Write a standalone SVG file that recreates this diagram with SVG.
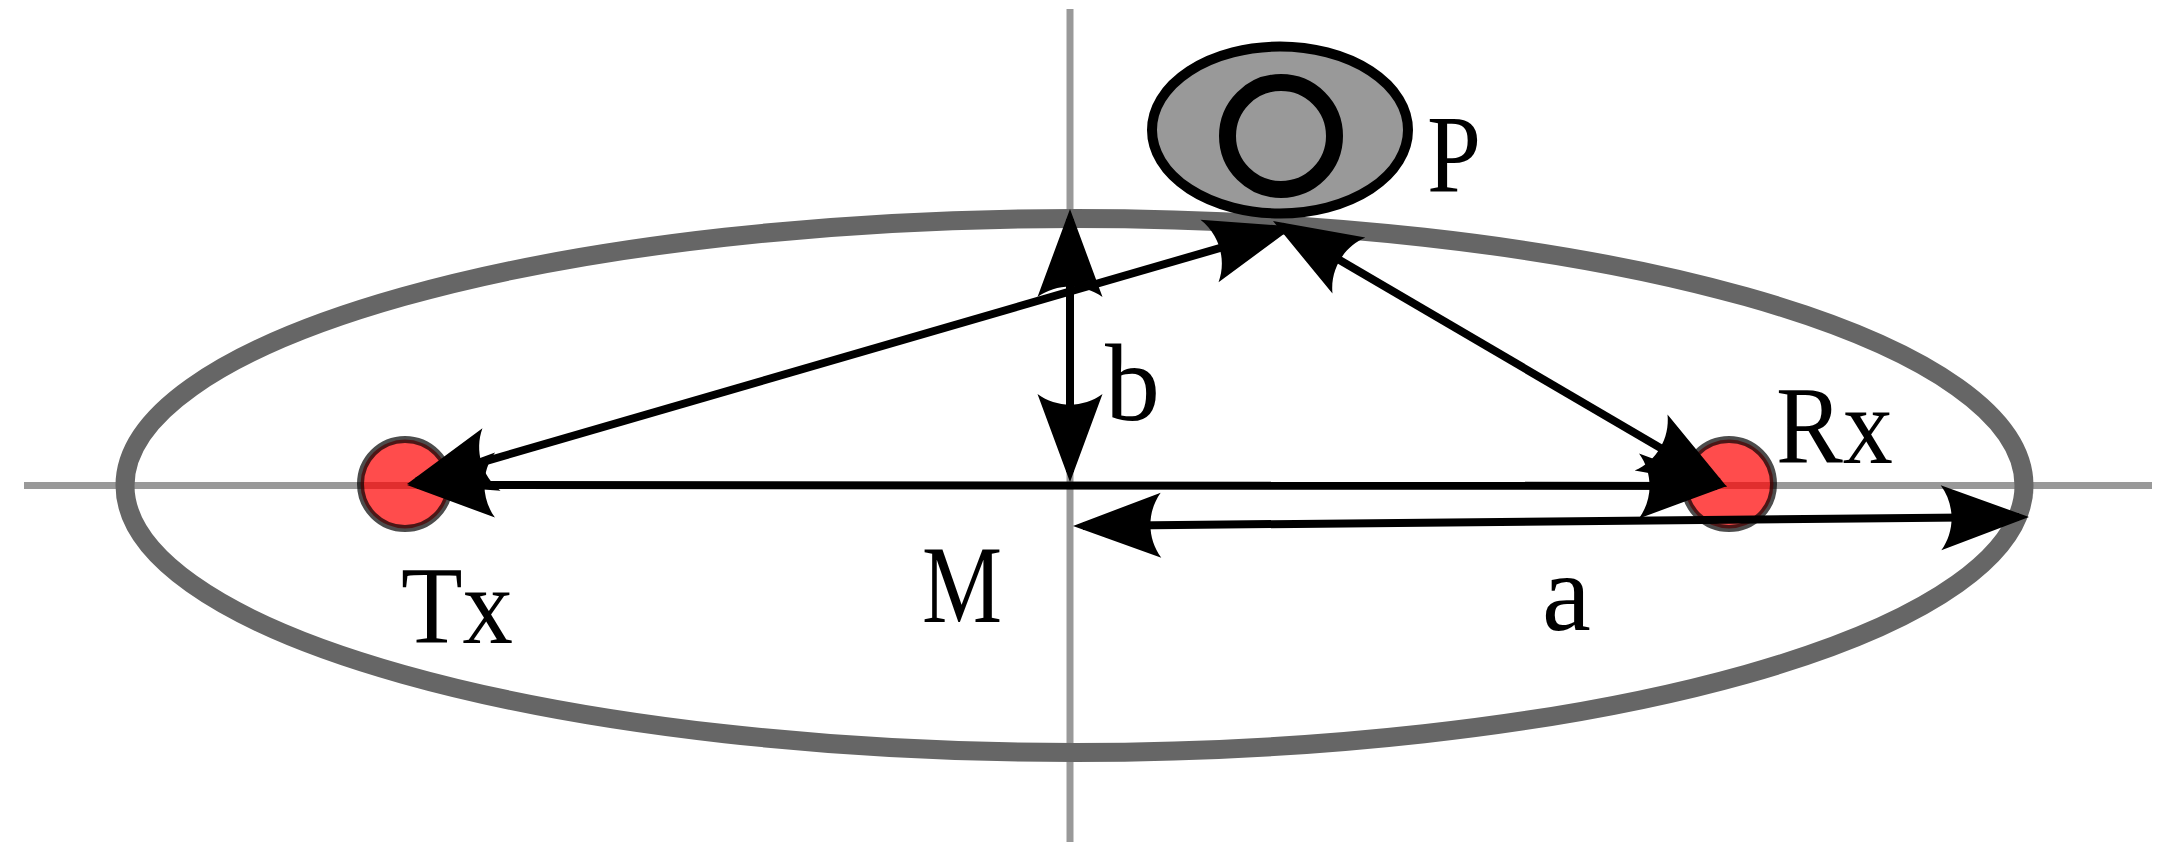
<svg xmlns="http://www.w3.org/2000/svg" width="2168" height="851" viewBox="0 0 2168 851">
<style>
.axis{stroke:#999999;stroke-width:7;fill:none}
.orbit{stroke:#666666;stroke-width:19;fill:none}
.station{fill:#ff0000;fill-opacity:0.7;stroke:#000000;stroke-opacity:0.7;stroke-width:7}
.conn{stroke:#000000;stroke-width:8;fill:none;marker-start:url(#arr);marker-end:url(#arr)}
.lbl{font-size:110px;fill:#000000}
</style>
<defs>
<marker id="arr" markerUnits="userSpaceOnUse" orient="auto-start-reverse" refX="0" refY="0" markerWidth="100" markerHeight="80" overflow="visible">
<path d="M10,0 L-78,-32.5 C-63.9,-13.2 -63.9,13.2 -78,32.5 Z" fill="#000000"/>
</marker>
</defs>
<g id="axes">
<line class="axis" x1="1070" y1="9" x2="1070" y2="842"/>
<line class="axis" x1="24" y1="485.5" x2="2152" y2="485.5"/>
</g>
<g id="ellipse">
<ellipse class="orbit" cx="1074.5" cy="485.5" rx="949.5" ry="267"/>
</g>
<g id="node-P">
<ellipse cx="1280" cy="130" rx="128" ry="83.5" fill="#999999" stroke="#000000" stroke-width="10"/>
<circle cx="1281" cy="136" r="53.5" fill="#999999" stroke="#000000" stroke-width="17"/>
<text class="lbl" font-family="Liberation Serif, Times New Roman, serif" x="1427" y="191" textLength="54" lengthAdjust="spacingAndGlyphs">P</text>
</g>
<g id="node-Tx">
<circle class="station" cx="405" cy="484" r="44.5"/>
<text class="lbl" font-family="Liberation Serif, Times New Roman, serif" x="401" y="643" textLength="112" lengthAdjust="spacingAndGlyphs">Tx</text>
</g>
<g id="node-Rx">
<circle class="station" cx="1729" cy="484" r="44.5"/>
<text class="lbl" font-family="Liberation Serif, Times New Roman, serif" x="1776" y="463" textLength="117" lengthAdjust="spacingAndGlyphs">Rx</text>
</g>
<g id="node-M">
<text class="lbl" font-family="Liberation Serif, Times New Roman, serif" x="922" y="622" textLength="80" lengthAdjust="spacingAndGlyphs">M</text>
</g>
<g id="connectors">
<line class="conn" x1="417" y1="485" x2="1717" y2="486"/>
<line class="conn" x1="416.6" y1="481.2" x2="1284.4" y2="229.3"/>
<line class="conn" x1="1281.6" y1="226.1" x2="1718.4" y2="481.9"/>
<line class="conn" x1="1070" y1="219" x2="1070" y2="472"/>
<line class="conn" x1="1083" y1="525.9" x2="2019" y2="517.1"/>
</g>
<g id="labels">
<text class="lbl" font-family="Liberation Serif, Times New Roman, serif" x="1105" y="420">b</text>
<text class="lbl" font-family="Liberation Serif, Times New Roman, serif" x="1542" y="630" font-size="114">a</text>
</g>
</svg>
